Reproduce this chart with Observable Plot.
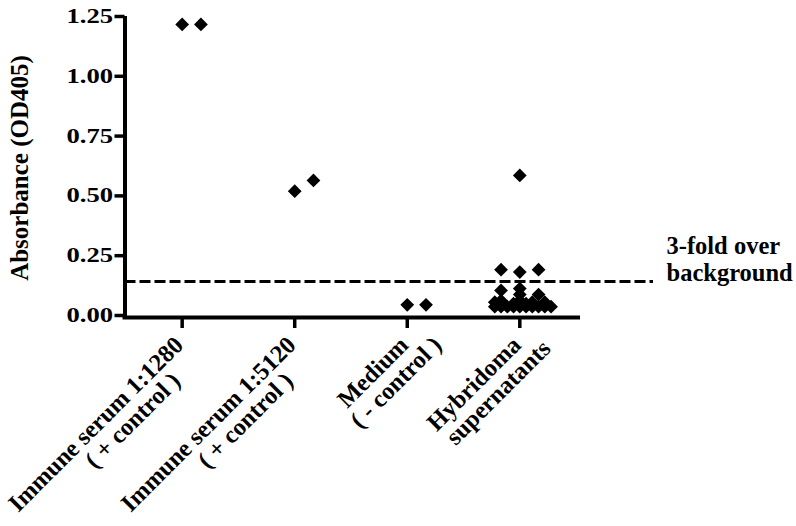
<!DOCTYPE html>
<html><head><meta charset="utf-8">
<script src="https://cdn.jsdelivr.net/npm/d3@7"></script>
<script src="https://cdn.jsdelivr.net/npm/@observablehq/plot@0.6"></script>
<style>
html,body{margin:0;padding:0;background:#fff;}
#chart svg{display:block;}
</style></head><body><div id="chart"></div>
<script>
// Categories (two-line tick labels)
const categoryLine1 = ["Immune serum 1:1280", "Immune serum 1:5120", "Medium", "Hybridoma"];
const categoryLine2 = ["( + control )", "( + control )", "( - control )", "supernatants"];

// Points: category index, absorbance, scatter slot within the column
const pointGroup = [0, 0, 1, 1, 2, 2,
  3, 3, 3, 3, 3, 3, 3, 3, 3, 3, 3, 3, 3, 3, 3, 3, 3, 3, 3, 3, 3, 3, 3, 3, 3];
const pointValue = [1.225, 1.225, 0.528, 0.573, 0.053, 0.053,
  0.594, 0.200, 0.190, 0.200, 0.113, 0.121, 0.096, 0.096,
  0.064, 0.071, 0.058, 0.071, 0.058, 0.064, 0.064,
  0.045, 0.045, 0.045, 0.045, 0.045, 0.045, 0.045, 0.045, 0.045, 0.045];
const pointSlot = [0, 3, 0, 3, 0, 3,
  0, -3, 0, 3, -3, 0, 0, 3,
  -4, -3, -1, 0, 1, 2, 4,
  -4, -3, -2, -1, 0, 1, 2, 3, 4, 5];

const yTicks = [0, 0.25, 0.5, 0.75, 1.0, 1.25];
const threshold = 0.15;
const thresholdLabel = "3-fold over\nbackground";
const yLabel = "Absorbance (OD405)";

// scale / layout settings
const xDomain = [-0.508, 4.188];
const axisEnd = 3.522;
const slotWidth = 1 / 18;

const cats = categoryLine1.map((l1, i) => ({i, text: l1 + "\n" + categoryLine2[i]}));
const points = pointValue.map((v, k) => ({x: pointGroup[k] + pointSlot[k] * slotWidth, value: v}));

const font = "'Liberation Serif', 'Times New Roman', serif";

const chart = Plot.plot({
  width: 796, height: 526,
  marginLeft: 124.5, marginRight: 143, marginTop: 18, marginBottom: 209,
  x: {domain: xDomain},
  y: {domain: [0, 1.25]},
  style: {fontFamily: font, fontWeight: "bold", color: "black", background: "white"},
  marks: [
    Plot.ruleY([threshold], {stroke: "black", strokeWidth: 3, strokeDasharray: "11,4"}),
    Plot.ruleY([0], {x1: xDomain[0], x2: axisEnd, stroke: "black", strokeWidth: 4, strokeLinecap: "square"}),
    Plot.ruleX([xDomain[0]], {y1: 0, y2: 1.25, stroke: "black", strokeWidth: 4, strokeLinecap: "square"}),
    Plot.axisY({ticks: yTicks, tickFormat: d3.format(".2f"), tickSize: 10, tickPadding: 2, strokeWidth: 3.5,
      fontSize: 20, dy: -2, label: null}),
    Plot.axisX({ticks: [0, 1, 2, 3], tickSize: 11, strokeWidth: 3.5, tickFormat: () => "", label: null}),
    Plot.text(cats, {x: "i", y: 0, text: "text", rotate: -45, textAnchor: "end",
      dx: 2.5, dy: 29, fontSize: 24.5, ariaDescription: "xlabels"}),
    Plot.dot(points, {x: "x", y: "value", symbol: "diamond2", r: 6.2, fill: "black"}),
    Plot.text([thresholdLabel], {x: xDomain[1], y: threshold, text: d => d, textAnchor: "start",
      dx: 13, dy: -23, fontSize: 24.5, lineHeight: 1.09, lineAnchor: "middle"}),
    Plot.text([yLabel], {frameAnchor: "left", y: 0.625, text: d => d, rotate: -90, dx: -105,
      fontSize: 25, textAnchor: "middle", lineAnchor: "middle"})
  ]
});
document.getElementById("chart").appendChild(chart);

// x labels: baseline of line 1 at the anchor, line 2 set below, partly centred
chart.querySelectorAll("text").forEach(t => {
  const tr = t.getAttribute("transform") || "";
  if (!tr.includes("rotate(-45)")) return;
  const ts = t.querySelectorAll("tspan");
  if (ts.length < 2) return;
  ts[0].setAttribute("y", 0);
  ts[0].removeAttribute("dy");
  const L1 = ts[0].getComputedTextLength();
  const L2 = ts[1].getComputedTextLength();
  ts[1].setAttribute("x", 0.36 * (L2 - L1) + 13);
  ts[1].setAttribute("dy", 23.5);
  ts[1].removeAttribute("y");
  ts[1].style.textAnchor = "end";
});

// y tick labels: wide digits as in the reference
chart.querySelectorAll('g[aria-label="y-axis tick label"] text').forEach(t => {
  const L = t.getComputedTextLength();
  t.setAttribute("textLength", L * 1.33);
  t.setAttribute("lengthAdjust", "spacingAndGlyphs");
});
</script>
</body></html>
